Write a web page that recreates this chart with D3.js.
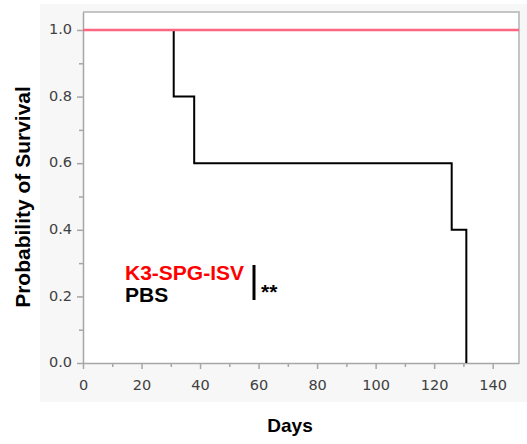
<!DOCTYPE html>
<html lang="en">
<head>
<meta charset="utf-8">
<title>Survival</title>
<script src="https://cdn.jsdelivr.net/npm/d3@7"></script>
<style>
  body { margin: 0; background: #fff; }
  svg { display: block; }
</style>
</head>
<body>
<div id="chart"></div>
<script>
// data
var pbsDays = [0, 31, 38, 126, 131];
var pbsSurv = [1.0, 0.8, 0.6, 0.4, 0.0];
var k3Days = [0, 149];
var k3Surv = [1.0, 1.0];
var xTicks = [0, 20, 40, 60, 80, 100, 120, 140];
var yTicks = [0.0, 0.2, 0.4, 0.6, 0.8, 1.0];
var legendNames = ["K3-SPG-ISV", "PBS"];

var W = 527, H = 444;
var pL = 83, pR = 519, pT = 12, pB = 363;

var svg = d3.select("#chart").append("svg")
    .attr("width", W).attr("height", H);

// gray panel behind the plot
svg.append("rect")
    .attr("x", 40).attr("y", 4)
    .attr("width", 487).attr("height", 398)
    .attr("fill", "#f7f7f7");

var x = d3.scaleLinear().domain([0, 149]).range([pL, pR]);
var y = d3.scaleLinear().domain([0, 1.054]).range([pB, pT]);

svg.append("rect")
    .attr("x", pL).attr("y", pT)
    .attr("width", pR - pL).attr("height", pB - pT)
    .attr("fill", "#fff");

// frame top/right
svg.append("path")
    .attr("d", "M" + pL + "," + pT + "H" + pR + "V" + pB)
    .attr("fill", "none").attr("stroke", "#c4c4c4").attr("stroke-width", 2);

// x axis
var xa = svg.append("g").attr("transform", "translate(0," + pB + ")")
    .call(d3.axisBottom(x).tickValues(xTicks).tickSize(6).tickSizeOuter(0)
        .tickFormat(d3.format("d")));
svg.append("g").attr("transform", "translate(0," + pB + ")")
    .call(d3.axisBottom(x).tickValues(d3.range(10, 150, 20)).tickSize(4).tickSizeOuter(0).tickFormat(""))
    .select(".domain").remove();

// y axis
var ya = svg.append("g").attr("transform", "translate(" + pL + ",0)")
    .call(d3.axisLeft(y).tickValues(yTicks).tickSize(6).tickSizeOuter(0)
        .tickFormat(d3.format(".1f")));
svg.append("g").attr("transform", "translate(" + pL + ",0)")
    .call(d3.axisLeft(y).tickValues([0.1, 0.3, 0.5, 0.7, 0.9]).tickSize(4).tickSizeOuter(0).tickFormat(""))
    .select(".domain").remove();

svg.selectAll(".domain, .tick line").attr("stroke", "#a6a6a6").attr("stroke-width", 1.5);
svg.selectAll(".tick text")
    .attr("font-family", "'DejaVu Sans', sans-serif")
    .attr("font-size", 14.5)
    .attr("fill", "#404040");
xa.selectAll(".tick text").attr("y", 27).attr("dy", null);
ya.selectAll(".tick text").attr("x", -11).attr("dy", "0.25em");

// survival step lines
var line = d3.line()
    .x(function (d) { return x(d[0]); })
    .y(function (d) { return y(d[1]); })
    .curve(d3.curveStepAfter);

var pbs = pbsDays.map(function (d, i) { return [d, pbsSurv[i]]; });
svg.append("path")
    .datum(pbs)
    .attr("d", line)
    .attr("fill", "none").attr("stroke", "#000").attr("stroke-width", 2);

var k3 = k3Days.map(function (d, i) { return [d, k3Surv[i]]; });
svg.append("path")
    .datum(k3)
    .attr("d", line)
    .attr("fill", "none").attr("stroke", "#ff6680").attr("stroke-width", 2.5);

// legend
var lg = svg.append("g")
    .attr("font-family", "Arial, 'Liberation Sans', sans-serif")
    .attr("font-weight", "bold").attr("font-size", 21);
lg.append("text").attr("x", 125).attr("y", 280).attr("fill", "#ff0000").text(legendNames[0]);
lg.append("text").attr("x", 125).attr("y", 302).attr("fill", "#000").text(legendNames[1]);
svg.append("line")
    .attr("x1", 254).attr("x2", 254).attr("y1", 265).attr("y2", 300)
    .attr("stroke", "#000").attr("stroke-width", 3);
lg.append("text").attr("x", 261).attr("y", 299).attr("fill", "#000").text("**");

// axis titles
svg.append("text")
    .attr("x", 290).attr("y", 432)
    .attr("text-anchor", "middle")
    .attr("font-family", "Arial, 'Liberation Sans', sans-serif")
    .attr("font-weight", "bold").attr("font-size", 19)
    .text("Days");
svg.append("text")
    .attr("transform", "translate(30,197) rotate(-90)")
    .attr("text-anchor", "middle")
    .attr("font-family", "Arial, 'Liberation Sans', sans-serif")
    .attr("font-weight", "bold").attr("font-size", 21)
    .text("Probability of Survival");
</script>
</body>
</html>
